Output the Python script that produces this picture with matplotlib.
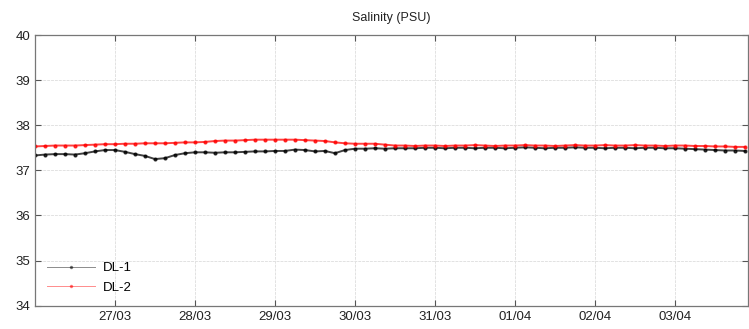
import numpy as np
import pandas as pd
import matplotlib
matplotlib.use("Agg")
import matplotlib.pyplot as plt
import matplotlib.dates as mdates

# 3-hourly samples starting 26/03 00:00
start = "2019-03-26 00:00"
dl1 = [37.33, 37.35, 37.36, 37.36, 37.35, 37.38, 37.42, 37.45,
       37.45, 37.41, 37.36, 37.32, 37.25, 37.27, 37.34, 37.38,
       37.40, 37.40, 37.39, 37.40, 37.40, 37.41, 37.42, 37.42,
       37.43, 37.43, 37.46, 37.45, 37.42, 37.43, 37.38, 37.45,
       37.48, 37.48, 37.49, 37.48, 37.49, 37.49, 37.49, 37.50,
       37.50, 37.49, 37.50, 37.50, 37.49, 37.50, 37.50, 37.49,
       37.50, 37.51, 37.50, 37.49, 37.50, 37.50, 37.51, 37.50,
       37.50, 37.49, 37.50, 37.50, 37.49, 37.50, 37.50, 37.49,
       37.49, 37.48, 37.47, 37.46, 37.45, 37.44, 37.44, 37.43]
dl2 = [37.53, 37.54, 37.55, 37.55, 37.55, 37.56, 37.57, 37.58,
       37.58, 37.59, 37.59, 37.60, 37.60, 37.60, 37.61, 37.62,
       37.62, 37.63, 37.65, 37.66, 37.66, 37.67, 37.68, 37.68,
       37.68, 37.68, 37.68, 37.67, 37.66, 37.65, 37.62, 37.60,
       37.59, 37.59, 37.59, 37.57, 37.55, 37.55, 37.54, 37.55,
       37.55, 37.54, 37.55, 37.55, 37.56, 37.55, 37.54, 37.55,
       37.55, 37.56, 37.55, 37.55, 37.54, 37.55, 37.56, 37.55,
       37.55, 37.56, 37.55, 37.55, 37.56, 37.55, 37.55, 37.54,
       37.55, 37.55, 37.54, 37.54, 37.53, 37.53, 37.52, 37.52]
series_labels = ["DL-1", "DL-2"]
series_colors = ["black", "red"]
y_ticks = [34, 35, 36, 37, 38, 39, 40]

times = pd.date_range(start, periods=len(dl1), freq="3h")

plt.rcParams["font.family"] = ["Liberation Sans", "DejaVu Sans"]

fig = plt.figure(figsize=(7.49, 3.29), dpi=100)
ax = fig.add_axes([0.0467, 0.0708, 0.952, 0.8228])

for vals, lab, col in zip([dl1, dl2], series_labels, series_colors):
    ax.plot(times, vals, color=col, lw=1.4, marker=".", ms=4, label=lab, alpha=0.75)

ax.set_ylim(34, 40)
ax.set_yticks(y_ticks)
ax.set_xlim(pd.Timestamp("2019-03-26 00:00"), pd.Timestamp("2019-04-03 21:55"))
ax.xaxis.set_major_locator(mdates.DayLocator(bymonthday=[27, 28, 29, 30, 31, 1, 2, 3]))
ax.xaxis.set_major_formatter(mdates.DateFormatter("%d/%m"))

ax.grid(True, color="#e2e2e2", lw=0.7, ls=(0, (3, 1)))
ax.tick_params(direction="in", top=True, right=True, length=4, width=0.8,
               colors="#555555", labelcolor="#222222", labelsize=9.5)
for s in ax.spines.values():
    s.set_color("#777777")
    s.set_linewidth(0.9)

ax.set_title("Salinity (PSU)", fontsize=9, color="#222222", pad=10)

leg = ax.legend(loc="lower left", bbox_to_anchor=(0.012, 0.03), frameon=False,
                fontsize=9.5, handlelength=3.6, handletextpad=0.6,
                borderaxespad=0.0, labelspacing=0.55, borderpad=0.3)
for h in leg.legend_handles:
    h.set_linewidth(0.7)
    h.set_alpha(0.45)
    h.set_markersize(3)

fig.savefig("out.png", dpi=100)
